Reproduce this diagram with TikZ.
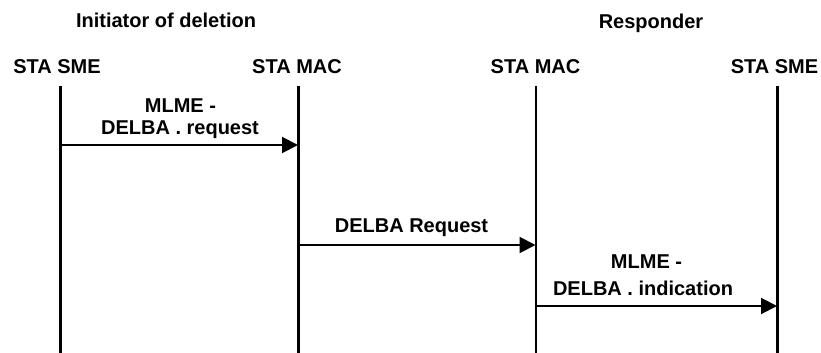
\documentclass[tikz,border=0pt]{standalone}
\usepackage{fontspec}
\setmainfont{Liberation Sans}
\usetikzlibrary{arrows.meta}
\begin{document}
\begin{tikzpicture}[x=1pt,y=-1pt,
  lbl/.style={font=\bfseries\fontsize{20}{24}\selectfont, inner sep=0pt, anchor=base},
  life/.style={line width=2.5pt},
  msg/.style={line width=2pt, -{Triangle[length=16pt,width=16pt]}}]
\useasboundingbox (0,0) rectangle (821,353);
\node[lbl] (t1) at (166,28) {Initiator of deletion};
\node[lbl] (t2) at (651,29) {Responder};
\node[lbl] (h1) at (57,73.3) {STA SME};
\node[lbl] (h2) at (297,73.3) {STA MAC};
\node[lbl] (h3) at (535.5,73.3) {STA MAC};
\node[lbl] (h4) at (774.5,73.3) {STA SME};
\coordinate (a1) at (60.5,86); \coordinate (b1) at (60.5,353);
\coordinate (a2) at (298.5,86); \coordinate (b2) at (298.5,353);
\coordinate (a3) at (536,86); \coordinate (b3) at (536,353);
\coordinate (a4) at (777.5,86); \coordinate (b4) at (777.5,353);
\draw[life] (a1) -- (b1);
\draw[life] (a2) -- (b2);
\draw[life] (a3) -- (b3);
\draw[life] (a4) -- (b4);
\coordinate (m1s) at (60.5,145); \coordinate (m1e) at (298,145);
\coordinate (m2s) at (298.5,245); \coordinate (m2e) at (535.5,245);
\coordinate (m3s) at (536,306); \coordinate (m3e) at (777,306);
\draw[msg] (m1s) -- (m1e);
\draw[msg] (m2s) -- (m2e);
\draw[msg] (m3s) -- (m3e);
\node[lbl] (l1a) at (180.5,112.7) {MLME -};
\node[lbl] (l1b) at (180,134.3) {DELBA . request};
\node[lbl] (l2) at (411.5,232.7) {DELBA Request};
\node[lbl] (l3a) at (646.5,268.3) {MLME -};
\node[lbl] (l3b) at (643,295) {DELBA . indication};
\end{tikzpicture}
\end{document}
